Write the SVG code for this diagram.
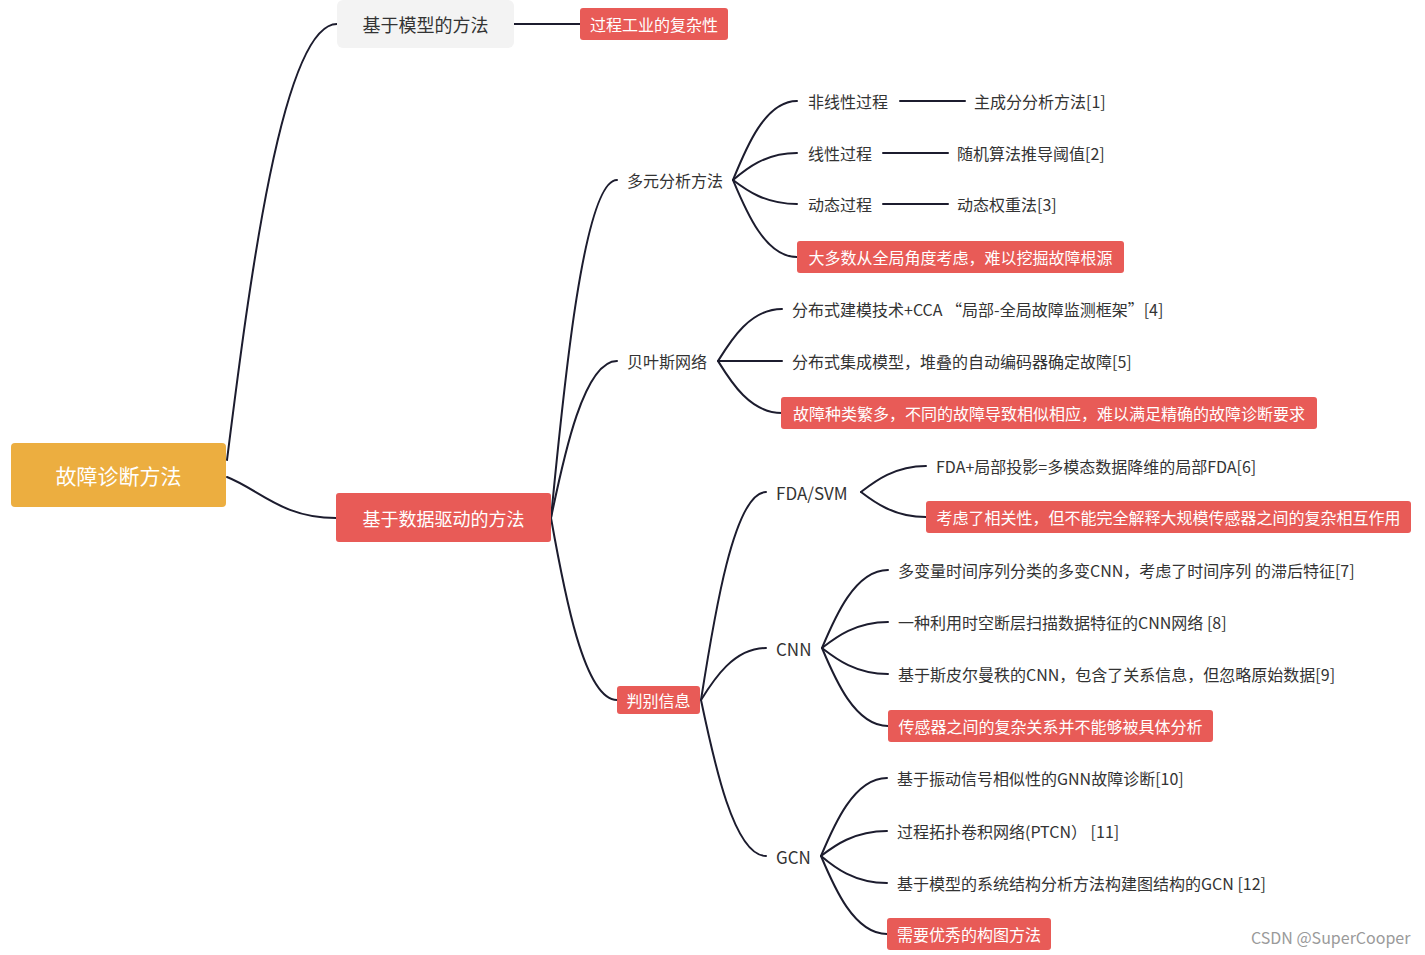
<svg xmlns="http://www.w3.org/2000/svg" width="1425" height="955" viewBox="0 0 1425 955">
<style>
.c{fill:none;stroke:#1c1c2e;stroke-width:2;stroke-linecap:round}
text{font-family:"Microsoft YaHei","Noto Sans CJK SC","Noto Sans",sans-serif;dominant-baseline:central}
.t{fill:#333;font-size:16px}
.t3{fill:#333;font-size:17px}
.w{fill:#fff;font-size:16px}
.red{fill:#e85b57}
</style>
<rect width="1425" height="955" fill="#fff"/>
<g id="connectors">
<path class="c" d="M227,460 C249,286 282,24 337,24"/>
<path class="c" d="M227,477 C260,490 282,518 336,518"/>
<path class="c" d="M514,24 L580,24"/>
<path class="c" d="M551,518 C564,383 584,180 617,180"/>
<path class="c" d="M551,518 C564,455 584,361 617,361"/>
<path class="c" d="M551,518 C564,591 584,700 617,700"/>
<path class="c" d="M733,180 C746,148 765,101 797,101"/>
<path class="c" d="M733,180 C746,169 765,153 797,153"/>
<path class="c" d="M733,180 C746,190 765,204 797,204"/>
<path class="c" d="M733,180 C746,211 765,257 797,257"/>
<path class="c" d="M900,101 L965,101"/>
<path class="c" d="M883,153 L948,153"/>
<path class="c" d="M883,204 L948,204"/>
<path class="c" d="M718,361 C731,340 750,309 782,309"/>
<path class="c" d="M718,361 L782,361"/>
<path class="c" d="M718,361 C731,382 750,413 782,413"/>
<path class="c" d="M701,700 C714,617 734,492 766,492"/>
<path class="c" d="M701,700 C714,679 734,648 766,648"/>
<path class="c" d="M701,700 C714,762 734,856 766,856"/>
<path class="c" d="M861,492 C874,482 894,466 926,466"/>
<path class="c" d="M861,492 C874,502 894,517 926,517"/>
<path class="c" d="M822,648 C835,617 855,570 888,570"/>
<path class="c" d="M822,648 C835,638 855,622 888,622"/>
<path class="c" d="M822,648 C835,658 855,674 888,674"/>
<path class="c" d="M822,648 C835,679 855,726 888,726"/>
<path class="c" d="M821,856 C834,825 854,778 887,778"/>
<path class="c" d="M821,856 C834,846 854,831 887,831"/>
<path class="c" d="M821,856 C834,867 854,883 887,883"/>
<path class="c" d="M821,856 C834,887 854,934 887,934"/>
</g>
<g id="root">
<rect x="11" y="443" width="215" height="64" rx="4" fill="#ecae40"/>
<text x="118.5" y="475" text-anchor="middle" fill="#fff" font-size="21">故障诊断方法</text>
</g>
<g id="model-based">
<rect x="337" y="0" width="177" height="48" rx="6" fill="#f3f3f3"/>
<text x="425.5" y="24" text-anchor="middle" fill="#333" font-size="18">基于模型的方法</text>
</g>
<g id="model-complexity">
<rect class="red" x="580" y="8" width="148" height="32" rx="3"/>
<text class="w" x="654" y="24" text-anchor="middle">过程工业的复杂性</text>
</g>
<g id="data-driven">
<rect class="red" x="336" y="493" width="215" height="49" rx="3"/>
<text x="443.5" y="517.5" text-anchor="middle" fill="#fff" font-size="18">基于数据驱动的方法</text>
</g>
<g id="multivariate"><text class="t" x="627" y="180">多元分析方法</text></g>
<g id="nonlinear"><text class="t" x="808" y="101">非线性过程</text></g>
<g id="pca"><text class="t" x="974" y="101">主成分分析方法[1]</text></g>
<g id="linear"><text class="t" x="808" y="153">线性过程</text></g>
<g id="random"><text class="t" x="957" y="153">随机算法推导阈值[2]</text></g>
<g id="dynamic"><text class="t" x="808" y="204">动态过程</text></g>
<g id="dynweight"><text class="t" x="957" y="204">动态权重法[3]</text></g>
<g id="multi-issue">
<rect class="red" x="797" y="241" width="327" height="32" rx="3"/>
<text class="w" x="960.5" y="257" text-anchor="middle">大多数从全局角度考虑，难以挖掘故障根源</text>
</g>
<g id="bayes"><text class="t" x="627" y="361">贝叶斯网络</text></g>
<g id="b4"><text class="t" x="792" y="309">分布式建模技术+CCA “局部-全局故障监测框架”[4]</text></g>
<g id="b5"><text class="t" x="792" y="361">分布式集成模型，堆叠的自动编码器确定故障[5]</text></g>
<g id="bayes-issue">
<rect class="red" x="781" y="397" width="536" height="32" rx="3"/>
<text class="w" x="1049" y="413" text-anchor="middle">故障种类繁多，不同的故障导致相似相应，难以满足精确的故障诊断要求</text>
</g>
<g id="discriminant">
<rect class="red" x="617" y="686" width="83" height="28" rx="3"/>
<text class="w" x="658.5" y="700" text-anchor="middle">判别信息</text>
</g>
<g id="fdasvm"><text class="t3" x="776" y="492">FDA/SVM</text></g>
<g id="f6"><text class="t" x="936" y="466">FDA+局部投影=多模态数据降维的局部FDA[6]</text></g>
<g id="fda-issue">
<rect class="red" x="926" y="501" width="485" height="32" rx="3"/>
<text class="w" x="1168.5" y="517" text-anchor="middle">考虑了相关性，但不能完全解释大规模传感器之间的复杂相互作用</text>
</g>
<g id="cnn"><text class="t3" x="776" y="648">CNN</text></g>
<g id="c7"><text class="t" x="898" y="570">多变量时间序列分类的多变CNN，考虑了时间序列 的滞后特征[7]</text></g>
<g id="c8"><text class="t" x="898" y="622">一种利用时空断层扫描数据特征的CNN网络 [8]</text></g>
<g id="c9"><text class="t" x="898" y="674">基于斯皮尔曼秩的CNN，包含了关系信息，但忽略原始数据[9]</text></g>
<g id="cnn-issue">
<rect class="red" x="888" y="710" width="325" height="32" rx="3"/>
<text class="w" x="1050.5" y="726" text-anchor="middle">传感器之间的复杂关系并不能够被具体分析</text>
</g>
<g id="gcn"><text class="t3" x="776" y="856">GCN</text></g>
<g id="g10"><text class="t" x="897" y="778">基于振动信号相似性的GNN故障诊断[10]</text></g>
<g id="g11"><text class="t" x="897" y="831">过程拓扑卷积网络(PTCN） [11]</text></g>
<g id="g12"><text class="t" x="897" y="883">基于模型的系统结构分析方法构建图结构的GCN [12]</text></g>
<g id="gcn-issue">
<rect class="red" x="887" y="918" width="164" height="32" rx="3"/>
<text class="w" x="969" y="934" text-anchor="middle">需要优秀的构图方法</text>
</g>
<text x="1251" y="937" fill="#9a9a9a" font-size="16" font-family="Liberation Sans,Arial,sans-serif">CSDN @SuperCooper</text>
</svg>
